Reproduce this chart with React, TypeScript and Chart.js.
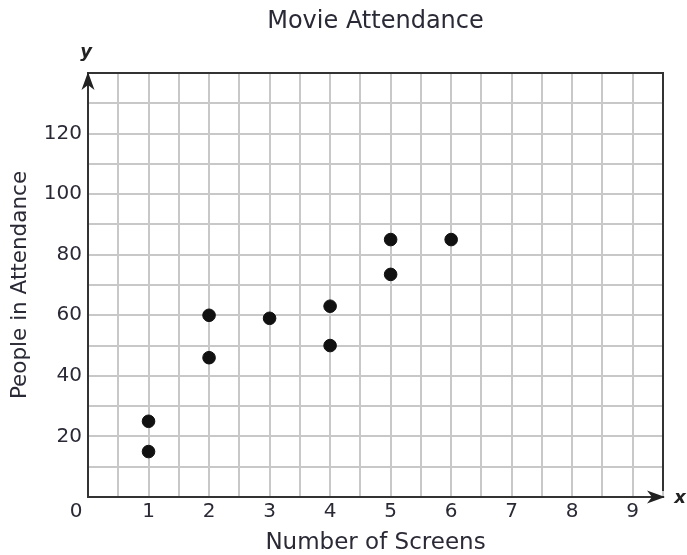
import { useEffect, useRef } from 'react';
import { Chart, registerables } from 'chart.js';

Chart.register(...registerables);

const chartTitle = 'Movie Attendance';
const xAxisTitle = 'Number of Screens';
const yAxisTitle = 'People in Attendance';
const xAxisLetter = 'x';
const yAxisLetter = 'y';
const originLabel = '0';

const screens = [1, 1, 2, 2, 3, 4, 4, 5, 5, 6];
const attendance = [25, 15, 60, 46, 59, 63, 50, 85, 73.5, 85];

const xLabeledTicks = [1, 2, 3, 4, 5, 6, 7, 8, 9];
const yLabeledTicks = [20, 40, 60, 80, 100, 120];
const xRange = [0, 9.5];
const yRange = [0, 140];
const xGridStep = 0.5;
const yGridStep = 10;

const FONT = '"DejaVu Sans", Verdana, sans-serif';
const TEXT = '#2a2a36';
const AXIS = '#333';
const GRID = '#c8c8c8';

const decorPlugin = {
  id: 'decor',
  afterDraw(chart: any) {
    const { ctx, chartArea } = chart;
    const { left, right, top, bottom } = chartArea;
    ctx.save();
    // top & right frame
    ctx.strokeStyle = AXIS;
    ctx.lineWidth = 2;
    ctx.beginPath();
    ctx.moveTo(left, top);
    ctx.lineTo(right, top);
    ctx.lineTo(right, bottom - 6);
    ctx.stroke();
    // y arrowhead
    ctx.fillStyle = '#222';
    ctx.beginPath();
    ctx.moveTo(left, top - 1);
    ctx.lineTo(left + 6.5, top + 17);
    ctx.lineTo(left, top + 12);
    ctx.lineTo(left - 6.5, top + 17);
    ctx.closePath();
    ctx.fill();
    // x arrowhead
    ctx.beginPath();
    ctx.moveTo(right + 2, bottom);
    ctx.lineTo(right - 16, bottom - 6.5);
    ctx.lineTo(right - 11, bottom);
    ctx.lineTo(right - 16, bottom + 6.5);
    ctx.closePath();
    ctx.fill();
    // axis letters
    ctx.fillStyle = '#222';
    ctx.font = `italic bold 18px ${FONT}`;
    ctx.textAlign = 'center';
    ctx.textBaseline = 'middle';
    ctx.fillText(yAxisLetter, left - 2, top - 21);
    ctx.fillText(xAxisLetter, right + 17, bottom + 1);
    // origin label
    ctx.fillStyle = TEXT;
    ctx.font = `20px ${FONT}`;
    ctx.fillText(originLabel, left - 12, bottom + 15);
    ctx.restore();
  },
};

export default function App() {
  const ref = useRef<HTMLCanvasElement>(null);

  useEffect(() => {
    if (!ref.current) return;
    const chart = new Chart(ref.current, {
      type: 'scatter',
      data: {
        datasets: [
          {
            data: screens.map((x, i) => ({ x, y: attendance[i] })),
            backgroundColor: '#111',
            borderColor: '#111',
            pointRadius: 6.3,
            pointHoverRadius: 6.3,
          },
        ],
      },
      options: {
        responsive: false,
        animation: false,
        layout: { padding: { top: 0, right: 24, left: 0, bottom: 0 } },
        plugins: {
          legend: { display: false },
          tooltip: { enabled: false },
          title: {
            display: true,
            text: chartTitle,
            fullSize: false,
            color: TEXT,
            font: { family: FONT, size: 24, weight: 'normal' },
            padding: { top: 7, bottom: 37.2 },
          },
        },
        scales: {
          x: {
            type: 'linear',
            min: xRange[0],
            max: xRange[1],
            afterFit: (s: any) => {
              s.height = 58;
            },
            ticks: {
              stepSize: xGridStep,
              autoSkip: false,
              maxRotation: 0,
              padding: 3,
              color: TEXT,
              font: { family: FONT, size: 20 },
              callback: (v: any) => (xLabeledTicks.includes(Number(v)) ? String(v) : ''),
            },
            grid: { color: GRID, lineWidth: 2, drawTicks: false },
            border: { display: true, color: AXIS, width: 2 },
            title: {
              display: true,
              text: xAxisTitle,
              color: TEXT,
              font: { family: FONT, size: 23, lineHeight: 1 },
              padding: { top: 0, bottom: 0 },
            },
          },
          y: {
            type: 'linear',
            min: yRange[0],
            max: yRange[1],
            afterFit: (s: any) => {
              s.width = 88;
            },
            ticks: {
              stepSize: yGridStep,
              autoSkip: false,
              padding: 6,
              color: TEXT,
              font: { family: FONT, size: 20 },
              callback: (v: any) => (yLabeledTicks.includes(Number(v)) ? String(v) : ''),
            },
            grid: { color: GRID, lineWidth: 2, drawTicks: false },
            border: { display: true, color: AXIS, width: 2 },
            title: {
              display: true,
              text: yAxisTitle,
              color: TEXT,
              font: { family: FONT, size: 21.5, lineHeight: 1.2 },
              padding: { top: 8, bottom: 0 },
            },
          },
        },
      },
      plugins: [decorPlugin],
    });
    return () => chart.destroy();
  }, []);

  return (
    <div style={{ position: 'absolute', left: 0, top: 0, width: 687, height: 555 }}>
      <canvas ref={ref} width={687} height={555} style={{ display: 'block' }} />
    </div>
  );
}
